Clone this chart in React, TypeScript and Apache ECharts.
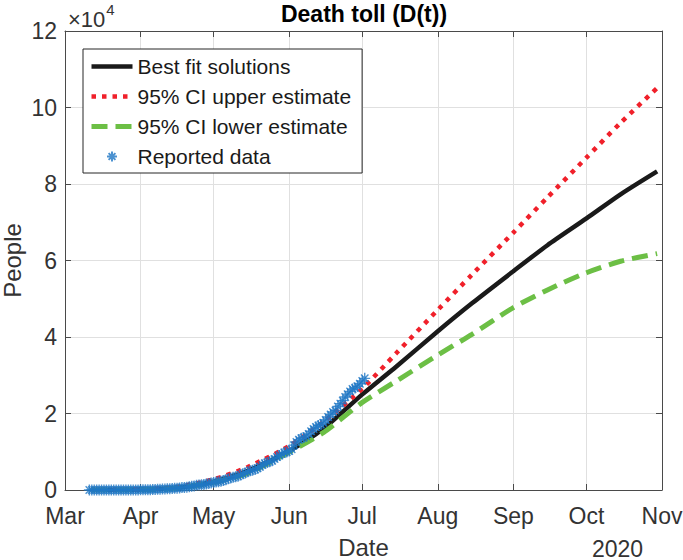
import React, { useEffect, useRef } from "react";
import * as echarts from "echarts";

const FONT = "'Liberation Sans', Arial, Helvetica, sans-serif";
const ORIGIN = "2020-03-01";
const X_END = "2020-11-01";

const monthStarts = ["2020-03-01", "2020-04-01", "2020-05-01", "2020-06-01", "2020-07-01", "2020-08-01", "2020-09-01", "2020-10-01", "2020-11-01"];
const monthLabels = ["Mar", "Apr", "May", "Jun", "Jul", "Aug", "Sep", "Oct", "Nov"];

// model curves (people)
const modelDates = ["2020-03-12", "2020-04-01", "2020-04-15", "2020-05-01", "2020-05-15", "2020-06-01", "2020-06-15", "2020-07-01", "2020-07-15", "2020-08-01", "2020-08-15", "2020-09-01", "2020-09-15", "2020-10-01", "2020-10-15", "2020-10-30"];
const bestFit = [0, 100, 500, 2200, 5000, 10200, 16000, 25000, 32300, 41500, 48800, 57200, 64000, 71000, 77300, 83300];
const upperCI = [0, 150, 700, 2800, 6000, 11500, 17800, 26500, 35800, 47100, 56300, 67300, 76500, 86900, 96000, 105100];
const lowerCI = [0, 80, 400, 2000, 4400, 9900, 15000, 22900, 28500, 35300, 40700, 47700, 52300, 56800, 59800, 61800];

// reported cumulative deaths, one value per day starting at reportedStart
const reportedStart = "2020-03-11";
const reported = [
  0, 0, 0, 0, 0, 0, 0,
  1, 2, 2, 2, 2, 4, 5, 6, 8, 12, 16, 20, 28, 29,
  37, 50, 60, 79, 94, 125, 141, 174, 194, 233, 273, 296, 332, 406, 449, 486, 546, 650, 686, 712, 857, 970, 1069, 1221, 1305, 1351, 1434, 1569, 1732, 1859,
  1972, 2061, 2154, 2271, 2507, 2704, 2961, 3160, 3353, 3465, 3573, 3926, 4220, 4477, 4767, 5045, 5177, 5332, 5666, 6090, 6510, 6989, 7179, 7394, 7633, 8134, 8597, 9044, 9415, 9779, 9930,
  10167, 10637, 11729, 12545, 13170, 13511, 13699, 14053, 14649, 15357, 15944, 16448, 16872, 17141, 17580, 18310, 19080, 19747, 20394, 20781, 21825, 22584, 23377, 24324, 25060, 25779, 26381, 26648, 27121, 27769,
  28510, 29189,
];

const seriesNames = ["Best fit solutions", "95% CI upper estimate", "95% CI lower estimate", "Reported data"];

const DAY = 86400000;
const dayOf = (s: string) => Math.round((Date.parse(s) - Date.parse(ORIGIN)) / DAY);

const ASTERISK = "path://M5,0L5,10M0,5L10,5M1.6,1.6L8.4,8.4M1.6,8.4L8.4,1.6";

export default function App() {
  const ref = useRef<HTMLDivElement>(null);
  useEffect(() => {
    if (!ref.current) return;
    const chart = echarts.init(ref.current, undefined, { renderer: "svg" });
    const tickDays = monthStarts.map(dayOf);
    const labelFor = (v: number) => {
      const i = tickDays.indexOf(Math.round(v));
      return i >= 0 ? monthLabels[i] : "";
    };
    const mk = (vals: number[]) => modelDates.map((d, i) => [dayOf(d), vals[i]]);
    const rs = dayOf(reportedStart);
    const repData = reported.map((v, i) => [rs + i, v]);
    const axisColor = "#4a4a4a";
    const textColor = "#333333";
    const gridColor = "#e0e0e0";

    const black = { color: "#1a1a1a", width: 4.5, type: "solid" };
    const red = { color: "#f0202a", width: 4.5, type: [4.5, 6], cap: "butt" };
    const green = { color: "#6cbf45", width: 5, type: [16, 8], cap: "butt" };
    const hideSym = { opacity: 0 };

    const xBase = {
      type: "value",
      min: 0,
      max: dayOf(X_END),
      axisLine: { show: true, onZero: false, lineStyle: { color: axisColor, width: 1 } },
      axisTick: { show: true, inside: true, length: 6, customValues: tickDays, lineStyle: { color: axisColor } },
    };
    const yBase = {
      type: "value",
      min: 0,
      max: 120000,
      interval: 20000,
      axisLine: { show: true, onZero: false, lineStyle: { color: axisColor, width: 1 } },
      axisTick: { show: true, inside: true, length: 6, lineStyle: { color: axisColor } },
    };

    chart.setOption({
      animation: false,
      backgroundColor: "#ffffff",
      textStyle: { fontFamily: FONT },
      title: {
        text: "Death toll (D(t))",
        left: 364,
        top: 2,
        padding: 0,
        textAlign: "center",
        textStyle: { fontFamily: FONT, fontSize: 23, lineHeight: 24, fontWeight: "bold", color: "#000000" },
      },
      grid: { left: 65, right: 21, top: 31, bottom: 70, containLabel: false, outerBoundsMode: "none" },
      legend: {
        left: 83,
        top: 49,
        orient: "vertical",
        data: [
          { name: seriesNames[0], itemStyle: hideSym, lineStyle: black },
          { name: seriesNames[1], itemStyle: hideSym, lineStyle: red },
          { name: seriesNames[2], itemStyle: hideSym, lineStyle: green },
          { name: seriesNames[3] },
        ],
        itemWidth: 41,
        itemHeight: 10,
        itemGap: 9,
        itemTextGap: 5,
        padding: [7, 11, 6, 6],
        borderColor: "#262626",
        borderWidth: 1,
        backgroundColor: "#ffffff",
        textStyle: { fontFamily: FONT, fontSize: 21, lineHeight: 21, color: "#1a1a1a" },
      },
      xAxis: [
        {
          ...xBase,
          position: "bottom",
          name: "Date",
          nameLocation: "middle",
          nameGap: 48,
          nameTextStyle: { fontFamily: FONT, fontSize: 24, lineHeight: 18, color: textColor },
          axisLabel: { show: true, customValues: tickDays, formatter: labelFor, margin: 14, fontFamily: FONT, fontSize: 23, color: textColor },
          splitLine: { show: true, lineStyle: { color: gridColor, width: 1 } },
        },
        {
          ...xBase,
          position: "top",
          axisLabel: { show: false },
          splitLine: { show: false },
        },
      ],
      yAxis: [
        {
          ...yBase,
          position: "left",
          name: "People",
          nameLocation: "middle",
          nameGap: 42,
          nameMoveOverlap: false,
          nameTextStyle: { fontFamily: FONT, fontSize: 24, lineHeight: 22, color: textColor },
          axisLabel: { show: true, margin: 8, fontFamily: FONT, fontSize: 23, color: textColor, formatter: (v: number) => String(v / 10000) },
          splitLine: { show: true, lineStyle: { color: gridColor, width: 1 } },
        },
        {
          ...yBase,
          position: "right",
          axisLabel: { show: false },
          splitLine: { show: false },
        },
      ],
      graphic: [
        {
          type: "text",
          left: 68,
          top: 2,
          style: {
            text: "{a|×10}{b|4}",
            rich: {
              a: { fontFamily: FONT, fontSize: 22, fill: textColor, verticalAlign: "bottom", lineHeight: 28 },
              b: { fontFamily: FONT, fontSize: 15, fill: textColor, verticalAlign: "top", lineHeight: 28, padding: [0, 0, 16, 1] },
            },
          },
        },
        {
          type: "text",
          left: 592,
          top: 537,
          style: { text: "2020", fontFamily: FONT, fontSize: 23, lineHeight: 18, fill: textColor },
        },
      ],
      series: [
        {
          name: seriesNames[0],
          type: "line",
          data: mk(bestFit),
          smooth: 0.25,
          symbol: "none",
          lineStyle: black,
          itemStyle: { color: "#1a1a1a" },
          z: 3,
        },
        {
          name: seriesNames[1],
          type: "line",
          data: mk(upperCI),
          smooth: 0.25,
          symbol: "none",
          lineStyle: red,
          itemStyle: { color: "#f0202a" },
          z: 3,
        },
        {
          name: seriesNames[2],
          type: "line",
          data: mk(lowerCI),
          smooth: 0.25,
          symbol: "none",
          lineStyle: green,
          itemStyle: { color: "#6cbf45" },
          z: 3,
        },
        {
          name: seriesNames[3],
          type: "scatter",
          data: repData,
          symbol: ASTERISK,
          symbolSize: 11,
          itemStyle: { color: "rgba(0,0,0,0)", borderColor: "#1f77c4", borderWidth: 1.4 },
          z: 4,
        },
      ],
    });
    return () => chart.dispose();
  }, []);
  return <div ref={ref} style={{ position: "absolute", left: 0, top: 0, width: 683, height: 560 }} />;
}
